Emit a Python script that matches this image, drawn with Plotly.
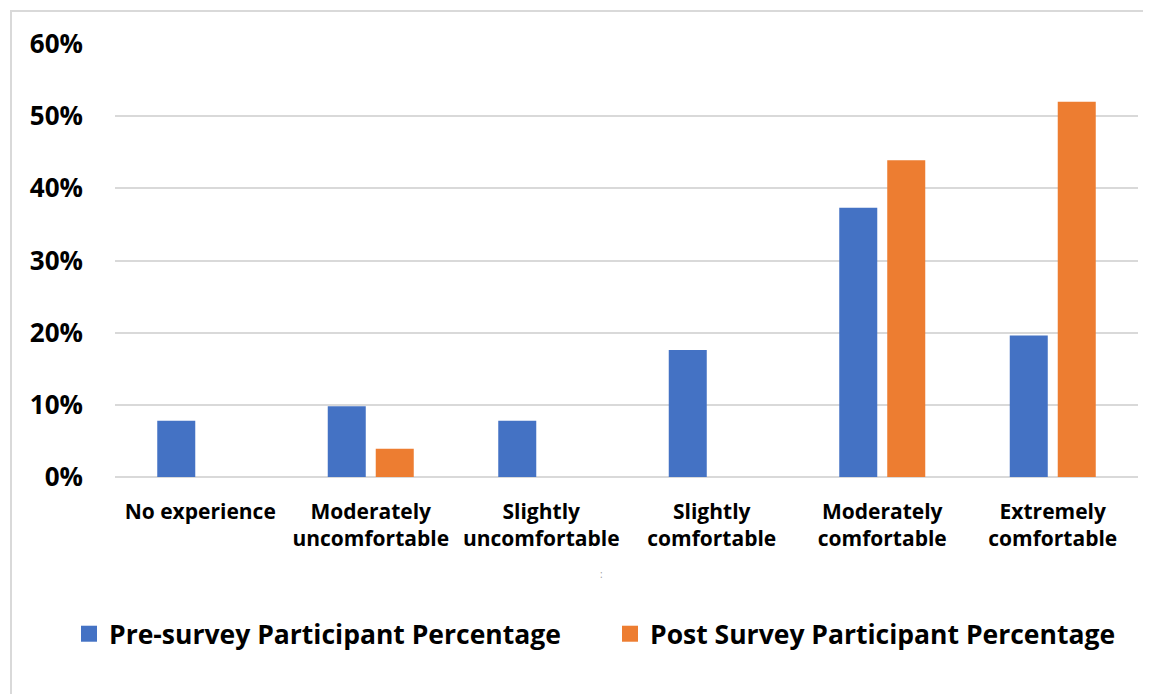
import plotly.graph_objects as go

categories = ["No experience", "Moderately<br>uncomfortable", "Slightly<br>uncomfortable",
              "Slightly<br>comfortable", "Moderately<br>comfortable", "Extremely<br>comfortable"]
pre_values = [0.078, 0.098, 0.078, 0.176, 0.373, 0.196]
post_values = [0.0, 0.039, 0.0, 0.0, 0.439, 0.52]
series_names = ["Pre-survey Participant Percentage", "Post Survey Participant Percentage"]
y_ticks = [0, 0.1, 0.2, 0.3, 0.4, 0.5, 0.6]
y_tick_labels = ["0%", "10%", "20%", "30%", "40%", "50%", "60%"]

BLUE = "#4472C4"
ORANGE = "#ED7D31"
FONT = "Open Sans"

OFF = 8  # page body margin
W, H = 1151 - OFF, 694 - OFF
ML, MR, MT, MB = 115 - OFF, 13, 44 - OFF, 217
pw, ph = W - ML - MR, H - MT - MB


def px_x(p):
    return (p - OFF - ML) / pw


def px_y(p):
    return (H - MB - (p - OFF)) / ph


fig = go.Figure()
fig.add_trace(go.Bar(x=categories, y=pre_values, name=series_names[0], marker_color=BLUE,
                     marker_line=dict(width=0), showlegend=False))
fig.add_trace(go.Bar(x=categories, y=post_values, name=series_names[1], marker_color=ORANGE,
                     marker_line=dict(width=0), showlegend=False))
# legend entries with larger square swatches, each in its own legend box
for name, col, lg in zip(series_names, [BLUE, ORANGE], ["legend", "legend2"]):
    fig.add_trace(go.Scatter(x=[None], y=[None], mode="markers", name=name, legend=lg,
                             marker=dict(symbol="square", size=16, color=col)))

legend_font = dict(size=26.5, family=FONT, color="black", weight="bold")
fig.update_layout(
    width=W, height=H,
    margin=dict(l=ML, r=MR, t=MT, b=MB),
    paper_bgcolor="white", plot_bgcolor="white",
    barmode="group", bargap=0.437, bargroupgap=0.208,
    font=dict(family=FONT, color="black"),
    showlegend=True,
    legend=dict(x=px_x(91 - 22), xanchor="left", y=px_y(634), yanchor="middle",
                font=legend_font, bgcolor="rgba(0,0,0,0)"),
    legend2=dict(x=px_x(632 - 22), xanchor="left", y=px_y(634), yanchor="middle",
                 font=legend_font, bgcolor="rgba(0,0,0,0)"),
    xaxis=dict(showgrid=False, showline=False, ticks="", ticklabelstandoff=20,
               tickfont=dict(size=21, family=FONT, color="black", weight="bold")),
    yaxis=dict(range=[0, 0.6], tickvals=y_ticks, ticktext=y_tick_labels,
               showgrid=True, gridcolor="#D9D9D9", gridwidth=1.8,
               zeroline=True, zerolinecolor="#D9D9D9", zerolinewidth=1.8,
               showline=False, ticks="", ticklabelstandoff=31,
               tickfont=dict(size=26, family=FONT, color="black", weight="bold")),
    shapes=[dict(type="rect", xref="paper", yref="paper",
                 x0=px_x(11), x1=px_x(1170), y0=px_y(11), y1=px_y(720),
                 line=dict(color="#D9D9D9", width=2), fillcolor="rgba(0,0,0,0)", layer="below")],
    annotations=[dict(text=":", x=px_x(601), y=px_y(583), xref="paper", yref="paper",
                      showarrow=False, font=dict(size=10, color="#9a9a9a"))],
)

fig.write_html("out.html")
